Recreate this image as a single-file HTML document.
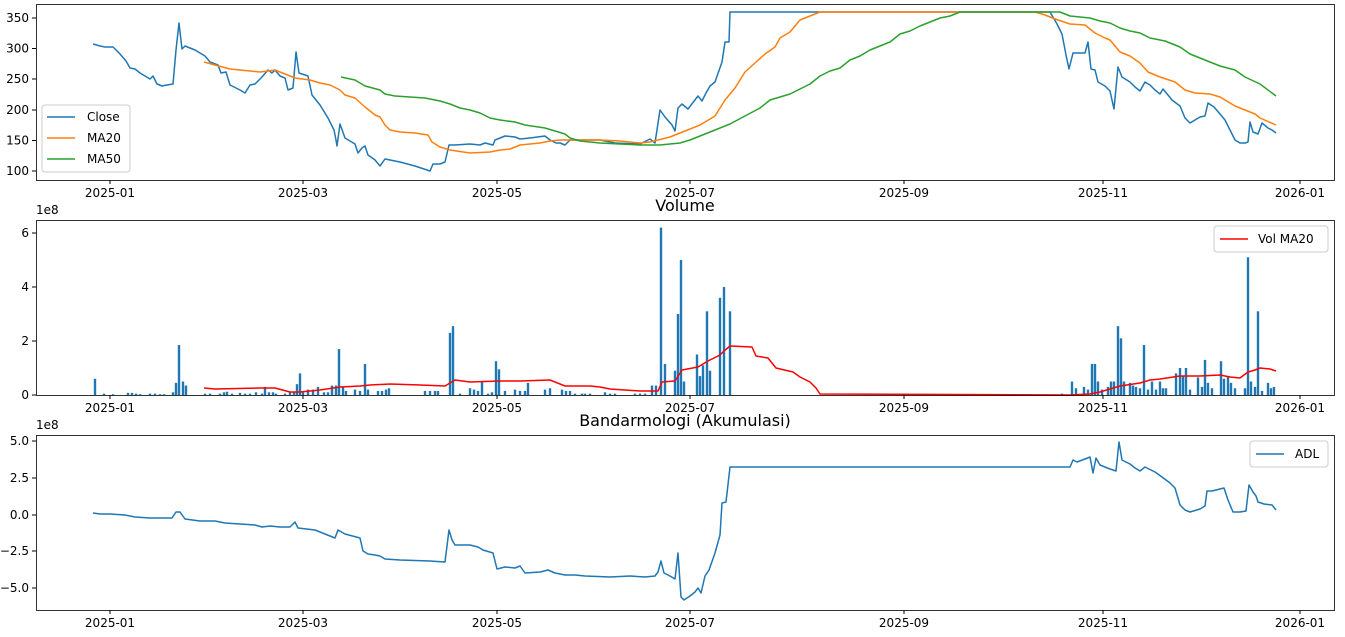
<!DOCTYPE html>
<html><head><meta charset="utf-8"><style>
html,body{margin:0;padding:0;background:#fff;}
svg text{font-family:"DejaVu Sans","Liberation Sans",sans-serif;font-size:12px;fill:#000;}
svg text.ti{font-size:16px;}
</style></head><body>
<svg id="s" width="1345" height="632" xmlns="http://www.w3.org/2000/svg"></svg>
<script>
const S=document.getElementById('s');let h='';
function pl(p,c,w){h+=`<polyline fill="none" stroke="${c}" stroke-width="${w||1.5}" stroke-linejoin="round" points="${p.map(a=>a.join(',')).join(' ')}"/>`;}
function t(x,y,s,a,cl){h+=`<text x="${x}" y="${y}" text-anchor="${a||'middle'}"${cl?` class="${cl}"`:''}>${s}</text>`;}
const axes=[[4,180],[220,395],[435,610]];
const xt=[[110,'2025-01'],[303,'2025-03'],[497,'2025-05'],[690,'2025-07'],[904,'2025-09'],[1103,'2025-11'],[1300,'2026-01']];
axes.forEach(([a,b])=>{xt.forEach(([x,l])=>{h+=`<line x1="${x}" x2="${x}" y1="${b}" y2="${b+4}" stroke="#000"/>`;t(x,b+17,l);});});
function yt(y,l){h+=`<line x1="32" x2="36" y1="${y}" y2="${y}" stroke="#000"/>`;t(29,y+4,l,'end');}
[[350,18],[300,48.5],[250,79],[200,110],[150,140.5],[100,171]].forEach(([v,y])=>yt(y,v));
[[0,395],[2,341],[4,287],[6,233]].forEach(([v,y])=>yt(y,v));
[['5.0',441],['2.5',478],['0.0',515],['−2.5',551],['−5.0',588]].forEach(([v,y])=>yt(y,v));
t(36,214,'1e8','start');t(36,429,'1e8','start');
t(685,211,'Volume','middle','ti');t(685,426,'Bandarmologi (Akumulasi)','middle','ti');
const close=[[93,44],[100,46],[105,47],[113,47],[120,54],[126,61],[130,68],[135,69],[140,73],[145,76],[150,79],[153,76],[157,84],[162,86],[167,85],[173,84],[176,50],[179,23],[182,49],[185,46],[195,50],[205,56],[210,62],[218,65],[221,73],[226,72],[230,85],[240,90],[245,93],[250,85],[255,84],[262,77],[268,70],[272,73],[275,70],[280,76],[285,78],[288,90],[293,88],[296,52],[299,73],[308,76],[312,95],[320,105],[328,118],[334,130],[336,140],[337,146],[340,124],[345,138],[350,141],[355,144],[358,153],[362,148],[365,146],[368,155],[375,160],[380,166],[385,159],[400,162],[415,166],[430,171],[433,164],[440,164],[445,162],[449,145],[455,145],[470,144],[480,145],[485,143],[493,145],[495,140],[505,136],[515,137],[520,139],[530,138],[545,136],[550,140],[556,143],[560,143],[565,145],[570,140],[580,140],[600,140],[615,143],[640,144],[650,139],[655,143],[660,110],[665,117],[672,125],[675,131],[678,108],[682,104],[688,109],[698,96],[702,101],[706,93],[710,86],[715,82],[722,62],[725,42],[729,42],[730,12],[1050,12],[1057,24],[1062,34],[1066,55],[1069,69],[1073,53],[1085,53],[1088,42],[1091,69],[1095,70],[1098,82],[1105,86],[1110,91],[1114,109],[1118,67],[1122,77],[1130,82],[1135,87],[1140,91],[1145,82],[1150,85],[1155,90],[1160,94],[1163,89],[1168,95],[1172,100],[1180,106],[1185,118],[1190,123],[1200,117],[1205,116],[1208,103],[1214,107],[1220,114],[1225,120],[1230,130],[1235,140],[1240,143],[1245,143],[1248,142],[1250,122],[1253,132],[1258,134],[1262,123],[1268,128],[1272,130],[1276,133]];
const ma20=[[204,62],[215,65],[230,69],[250,71],[260,72],[275,70],[285,74],[295,78],[310,80],[320,83],[330,85],[340,90],[345,95],[355,98],[365,107],[375,115],[380,117],[385,125],[390,130],[400,132],[415,133],[428,135],[432,142],[440,147],[450,150],[470,153],[490,152],[500,150],[510,149],[520,145],[540,143],[550,141],[560,140],[600,140],[620,141],[640,143],[650,142],[670,137],[685,131],[700,125],[710,119],[715,116],[725,100],[735,88],[745,72],[755,63],[765,54],[775,47],[780,38],[790,32],[800,20],[810,16],[820,12],[1035,12],[1045,15],[1058,20],[1070,24],[1085,25],[1095,33],[1105,38],[1110,40],[1120,52],[1130,56],[1140,63],[1148,72],[1160,77],[1175,82],[1185,90],[1195,93],[1210,94],[1220,97],[1225,100],[1235,106],[1245,110],[1255,114],[1260,118],[1276,125]];
const ma50=[[341,77],[355,80],[365,86],[380,90],[385,94],[395,96],[425,98],[440,101],[450,104],[460,108],[470,110],[480,113],[490,118],[500,120],[515,122],[525,125],[545,128],[555,131],[565,134],[570,138],[580,141],[600,143],[620,144],[640,145],[660,145],[670,144],[680,143],[690,140],[700,136],[715,130],[730,124],[745,116],[760,108],[770,100],[780,97],[790,94],[800,89],[810,84],[820,76],[830,71],[840,68],[850,60],[860,56],[870,50],[880,46],[890,42],[900,34],[910,31],[920,26],[930,22],[940,18],[950,16],[960,12],[1060,12],[1070,16],[1090,18],[1100,21],[1110,23],[1120,28],[1130,31],[1140,33],[1150,38],[1165,41],[1180,47],[1190,54],[1200,58],[1210,62],[1220,66],[1235,70],[1245,77],[1260,84],[1276,96]];
pl(close,'#1f77b4');pl(ma20,'#ff7f0e');pl(ma50,'#2ca02c');
const bars=[[95,.6],[104,.05],[113,.03],[128,.08],[132,.08],[136,.05],[140,.03],[150,.05],[155,.05],[160,.03],[164,.03],[173,.1],[176,.45],[179,1.85],[183,.5],[186,.35],[205,.05],[210,.05],[220,.05],[224,.1],[227,.12],[232,.05],[240,.08],[245,.05],[250,.05],[256,.1],[262,.05],[265,.3],[269,.1],[273,.1],[276,.05],[285,.05],[290,.1],[294,.1],[297,.4],[300,.8],[303,.1],[308,.2],[313,.2],[318,.3],[324,.1],[328,.1],[332,.35],[336,.35],[339,1.7],[343,.3],[346,.15],[355,.2],[360,.15],[365,1.15],[368,.2],[378,.15],[382,.15],[386,.2],[389,.25],[425,.15],[430,.15],[435,.15],[438,.15],[450,2.3],[453,2.55],[460,.05],[470,.25],[474,.2],[478,.15],[482,.5],[488,.05],[492,.1],[496,1.25],[499,.95],[505,.15],[515,.2],[520,.15],[525,.15],[528,.45],[545,.2],[550,.25],[562,.2],[566,.15],[570,.15],[575,.05],[582,.05],[585,.05],[590,.05],[605,.1],[610,.05],[615,.05],[635,.05],[640,.05],[645,.05],[652,.35],[656,.35],[661,6.2],[665,1.15],[675,.9],[678,3.0],[681,5.0],[684,.5],[697,1.5],[700,.7],[703,1.1],[707,3.1],[710,.9],[720,3.6],[724,4.0],[730,3.1],[1062,.05],[1072,.5],[1076,.25],[1084,.3],[1088,.2],[1092,1.15],[1095,1.15],[1098,.5],[1102,.2],[1108,.3],[1111,.5],[1114,.5],[1118,2.55],[1121,2.1],[1124,.5],[1130,.45],[1133,.35],[1136,.3],[1140,.25],[1144,1.85],[1148,.2],[1152,.5],[1156,.2],[1160,.5],[1163,.25],[1166,.25],[1176,.8],[1180,1.0],[1183,.7],[1186,1.0],[1190,.2],[1198,.65],[1202,.3],[1205,1.3],[1208,.45],[1212,.25],[1221,1.25],[1224,.6],[1228,.7],[1231,.45],[1235,.25],[1245,.25],[1248,5.1],[1251,.5],[1255,.3],[1258,3.1],[1262,.15],[1268,.45],[1271,.25],[1274,.3]];
bars.forEach(([x,v])=>{const hh=Math.max(v*27,0.8);h+=`<rect x="${x-1.2}" y="${395-hh}" width="2.4" height="${hh}" fill="#1f77b4"/>`;});
pl([[204,388],[215,389],[260,388],[275,388],[290,392],[300,392],[320,390],[340,387],[360,386],[370,385],[390,384],[420,385],[445,386],[455,380],[470,382],[500,381],[520,381],[550,380],[565,386],[590,386],[600,387],[610,389],[640,391],[658,391],[662,382],[675,381],[682,370],[698,367],[708,361],[720,355],[724,351],[730,346],[752,347],[756,356],[768,358],[776,368],[793,372],[800,377],[810,382],[816,388],[820,394],[1070,395],[1090,394],[1100,392],[1110,389],[1120,386],[1140,383],[1150,380],[1160,379],[1180,376],[1200,376],[1220,375],[1230,377],[1240,378],[1248,372],[1255,370],[1260,368],[1270,369],[1276,371]],'#ff0000');
pl([[93,513],[100,514],[110,514],[125,515],[135,517],[150,518],[165,518],[172,518],[176,512],[180,512],[185,519],[200,521],[215,521],[225,523],[240,524],[255,525],[262,527],[270,526],[280,527],[290,527],[295,522],[298,528],[315,530],[325,534],[335,538],[338,530],[345,534],[360,538],[363,551],[368,554],[375,555],[380,556],[385,559],[400,560],[430,561],[445,562],[449,530],[452,540],[455,545],[470,545],[478,547],[483,550],[493,553],[497,569],[505,567],[515,568],[520,566],[525,573],[540,572],[548,570],[555,573],[565,575],[575,575],[585,576],[610,577],[630,576],[645,577],[655,576],[658,572],[661,561],[664,573],[670,576],[675,579],[678,553],[681,597],[684,600],[690,596],[695,592],[698,588],[701,593],[705,576],[709,570],[715,553],[720,535],[722,503],[726,502],[730,467],[1070,467],[1073,460],[1077,462],[1085,459],[1090,457],[1093,473],[1096,458],[1100,465],[1110,469],[1116,471],[1119,442],[1122,460],[1130,464],[1135,468],[1140,471],[1145,467],[1155,472],[1162,477],[1170,483],[1175,488],[1180,505],[1185,510],[1190,512],[1200,509],[1205,506],[1207,491],[1212,491],[1220,489],[1224,488],[1228,500],[1233,512],[1240,512],[1246,511],[1249,485],[1253,492],[1256,496],[1258,502],[1264,504],[1272,505],[1276,510]],'#1f77b4');
axes.forEach(([a,b])=>{h+=`<rect x="36.5" y="${a+.5}" width="1298" height="${b-a}" fill="none" stroke="#000" stroke-width="0.8"/>`;});
h+=`<rect x="42" y="105" width="88" height="67" rx="3" fill="#fff" fill-opacity="0.8" stroke="#ccc"/>`;
[['Close','#1f77b4',117],['MA20','#ff7f0e',138],['MA50','#2ca02c',159]].forEach(([l,c,y])=>{h+=`<line x1="47" x2="75" y1="${y}" y2="${y}" stroke="${c}" stroke-width="1.5"/>`;t(87,y+4,l,'start');});
h+=`<rect x="1214" y="226" width="114" height="26" rx="3" fill="#fff" fill-opacity="0.8" stroke="#ccc"/>`;
h+=`<line x1="1220" x2="1248" y1="239" y2="239" stroke="#ff0000" stroke-width="1.5"/>`;t(1258,243,'Vol MA20','start');
h+=`<rect x="1250" y="441" width="78" height="26" rx="3" fill="#fff" fill-opacity="0.8" stroke="#ccc"/>`;
h+=`<line x1="1256" x2="1284" y1="454" y2="454" stroke="#1f77b4" stroke-width="1.5"/>`;t(1295,458,'ADL','start');
S.innerHTML=h;
</script>
</body></html>
